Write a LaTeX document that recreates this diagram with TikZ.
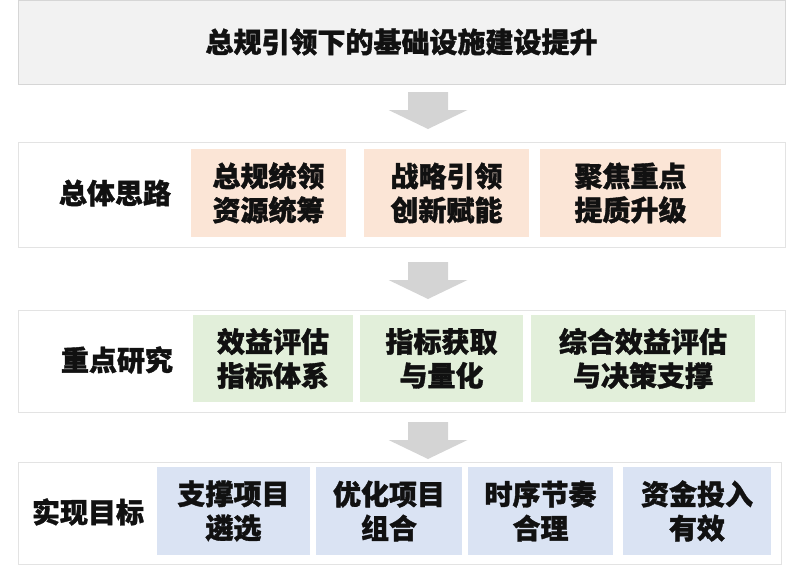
\documentclass[tikz,border=0pt]{standalone}
\usepackage{fontspec}
\newfontfamily\cjk{Noto Sans CJK SC}[BoldFeatures={FakeBold=1.3}]
\definecolor{topfill}{HTML}{F2F2F2}
\definecolor{topline}{HTML}{D6D6D6}
\definecolor{frameline}{HTML}{E3E3E3}
\definecolor{pinkfill}{HTML}{FBE5D6}
\definecolor{greenfill}{HTML}{E2EFDA}
\definecolor{bluefill}{HTML}{DAE3F3}
\definecolor{arrowgray}{HTML}{D4D4D4}
\definecolor{txt}{HTML}{111111}
\tikzset{
  x=1pt, y=-1pt,
  every node/.style={font=\cjk\bfseries\fontsize{28}{34}\selectfont, text=txt, align=center, inner sep=0pt},
  frame/.style={draw=frameline, line width=0.8pt, fill=white},
  topbox/.style={draw=topline, line width=0.8pt, fill=topfill, minimum width=767pt, minimum height=84pt},
  pinkbox/.style={fill=pinkfill, minimum height=88pt},
  greenbox/.style={fill=greenfill, minimum height=87pt},
  bluebox/.style={fill=bluefill, minimum height=88pt},
  blockarrow/.pic={\fill[arrowgray] (-20,0) -- (-20,18) -- (-39.5,18) -- (0,37) -- (39.5,18) -- (20,18) -- (20,0) -- cycle;}
}
\begin{document}
\begin{tikzpicture}
\useasboundingbox (0,0) rectangle (788,565);
% top title
\node[topbox] (title) at (401.5,42) {总规引领下的基础设施建设提升};
% frames
\node[frame, minimum width=767pt, minimum height=105pt] (f1) at (401.5,194.5) {};
\node[frame, minimum width=767pt, minimum height=102pt] (f2) at (401.5,361) {};
\node[frame, minimum width=763pt, minimum height=102pt] (f3) at (399.5,513) {};
% arrows
\coordinate (a1) at (428,92);
\coordinate (a2) at (428,262);
\coordinate (a3) at (428,422);
\pic at (a1) {blockarrow};
\pic at (a2) {blockarrow};
\pic at (a3) {blockarrow};
% row 1
\node (l1) at (115,193) {总体思路};
\node[pinkbox, minimum width=155pt] (p1) at (268.5,193) {总规统领\\资源统筹};
\node[pinkbox, minimum width=165pt] (p2) at (446.5,193) {战略引领\\创新赋能};
\node[pinkbox, minimum width=181pt] (p3) at (630.5,193) {聚焦重点\\提质升级};
% row 2
\node (l2) at (117,360) {重点研究};
\node[greenbox, minimum width=160pt] (g1) at (273,358.5) {效益评估\\指标体系};
\node[greenbox, minimum width=163pt] (g2) at (441.5,358.5) {指标获取\\与量化};
\node[greenbox, minimum width=224pt] (g3) at (643,358.5) {综合效益评估\\与决策支撑};
% row 3
\node (l3) at (88,512) {实现目标};
\node[bluebox, minimum width=153pt] (b1) at (233.5,511) {支撑项目\\遴选};
\node[bluebox, minimum width=146pt] (b2) at (389,511) {优化项目\\组合};
\node[bluebox, minimum width=145pt] (b3) at (540.5,511) {时序节奏\\合理};
\node[bluebox, minimum width=148pt] (b4) at (697,511) {资金投入\\有效};
\end{tikzpicture}
\end{document}
